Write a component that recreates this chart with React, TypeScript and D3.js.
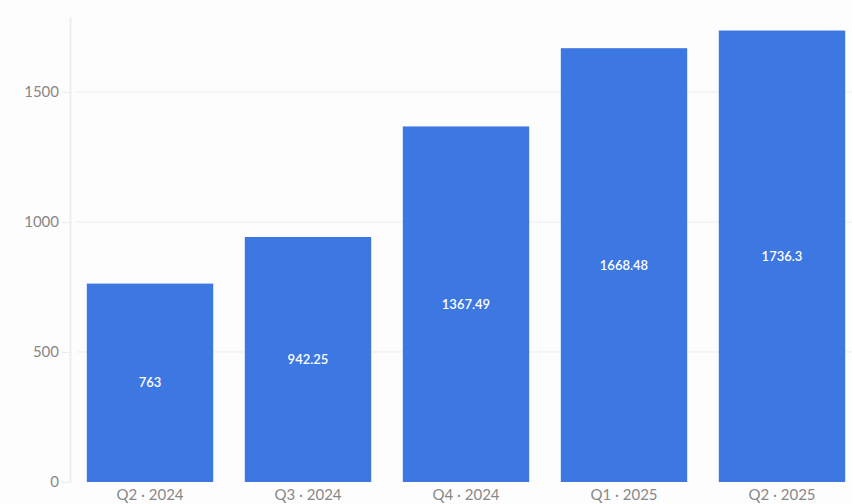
import { useRef, useEffect } from "react";
import * as d3 from "d3";

const quarters = ["Q2 · 2024", "Q3 · 2024", "Q4 · 2024", "Q1 · 2025", "Q2 · 2025"];
const totals = [763, 942.25, 1367.49, 1668.48, 1736.3];
const yTicks = [0, 500, 1000, 1500];

const W = 852;
const H = 504;
const FONT = "Lato, 'Open Sans', sans-serif";

export default function App() {
  const svgRef = useRef<SVGSVGElement>(null);

  useEffect(() => {
    if (!svgRef.current) return;
    const svg = d3.select(svgRef.current);
    svg.selectAll("*").remove();

    const left = 70;
    const bottom = 482;
    const top = 17;

    const x = d3
      .scaleBand<string>()
      .domain(quarters)
      .range([71, 861])
      .paddingInner(0.2)
      .paddingOuter(0.1);

    const y = d3
      .scaleLinear()
      .domain([0, d3.max(totals)! * 1.03])
      .range([bottom, top]);

    svg.append("rect").attr("width", W).attr("height", H).attr("fill", "#fdfdfd");

    // grid
    svg
      .append("g")
      .selectAll("line")
      .data(yTicks.filter((t) => t > 0))
      .join("line")
      .attr("x1", left + 7)
      .attr("x2", W)
      .attr("y1", (d) => y(d))
      .attr("y2", (d) => y(d))
      .attr("stroke", "#ececec")
      .attr("stroke-width", 1);

    // y axis
    const yAxis = svg
      .append("g")
      .attr("transform", `translate(${left},0)`)
      .call(
        d3
          .axisLeft(y)
          .tickValues(yTicks)
          .tickFormat((d) => String(d))
          .tickSize(8)
          .tickSizeOuter(0)
          .tickPadding(3)
      );
    yAxis.select(".domain").attr("stroke", "#ededed").attr("stroke-width", 2);
    yAxis.selectAll(".tick line").attr("stroke", "#ececec");
    yAxis
      .selectAll("text")
      .attr("fill", "#888")
      .attr("font-size", 15)
      .attr("font-family", FONT);

    // bars
    svg
      .append("g")
      .selectAll("rect")
      .data(totals)
      .join("rect")
      .attr("x", (_, i) => x(quarters[i])!)
      .attr("width", x.bandwidth())
      .attr("y", (d) => y(d))
      .attr("height", (d) => bottom - y(d))
      .attr("fill", "#3d77e1");

    // value labels
    svg
      .append("g")
      .selectAll("text")
      .data(totals)
      .join("text")
      .attr("x", (_, i) => x(quarters[i])! + x.bandwidth() / 2)
      .attr("y", (d) => (y(d) + bottom) / 2)
      .attr("dy", "0.35em")
      .attr("text-anchor", "middle")
      .attr("fill", "#fff")
      .attr("font-size", 13)
      .attr("font-weight", 600)
      .attr("font-family", FONT)
      .text((d) => String(d));

    // x axis
    const xAxis = svg
      .append("g")
      .attr("transform", `translate(0,${bottom})`)
      .call(d3.axisBottom(x).tickSize(0).tickPadding(7));
    xAxis.select(".domain").remove();
    xAxis
      .selectAll("text")
      .attr("fill", "#888")
      .attr("font-size", 15)
      .attr("font-family", FONT);
  }, []);

  return (
    <svg
      ref={svgRef}
      width={W}
      height={H}
      style={{ position: "absolute", left: 0, top: 0 }}
    />
  );
}
